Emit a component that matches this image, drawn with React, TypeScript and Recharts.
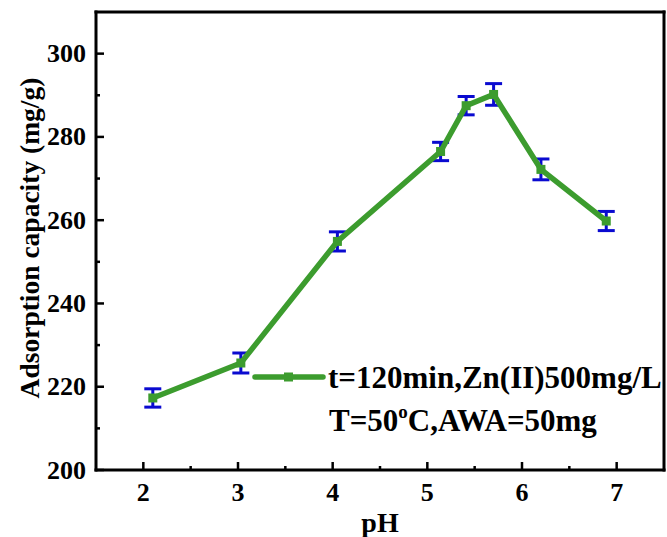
import { ComposedChart, Line, XAxis, YAxis, ErrorBar, Customized, ReferenceLine } from "recharts"

const pH = [2.1, 3.03, 4.05, 5.14, 5.41, 5.7, 6.2, 6.89]
const capacity = [217.3, 225.7, 254.9, 276.5, 287.5, 290.2, 272.2, 259.8]
const errors = [2.2, 2.4, 2.3, 2.2, 2.2, 2.6, 2.5, 2.3]

const xTicks = [2, 2.5, 3, 3.5, 4, 4.5, 5, 5.5, 6, 6.5, 7]
const yTicks = [200, 210, 220, 230, 240, 250, 260, 270, 280, 290, 300]
const xDomain = [1.5, 7.5]
const yDomain = [200, 310]

const legendLines = ["t=120min,Zn(II)500mg/L", "T=50", "C,AWA=50mg"]

const data = pH.map((x, i) => ({ pH: x, q: capacity[i], err: errors[i] }))

const FONT = "'Liberation Serif', 'Times New Roman', serif"
const GREEN = "#3c9c2e"
const BLUE = "#0a0ad0"

const textStyle = { fontFamily: FONT, fontWeight: "bold" as const }

function XTick({ x, y, payload }: any) {
  const major = Number.isInteger(payload.value)
  return (
    <g>
      <line x1={x} x2={x} y1={y} y2={y - (major ? 8 : 4)} stroke="#000" strokeWidth={2.5} />
      {major && (
        <text x={x} y={y + 31} textAnchor="middle" style={{ ...textStyle, fontSize: 26 }} fill="#000">
          {payload.value}
        </text>
      )}
    </g>
  )
}

function YTick({ x, y, payload }: any) {
  const major = payload.value % 20 === 0
  return (
    <g>
      <line x1={x} x2={x + (major ? 8 : 4)} y1={y} y2={y} stroke="#000" strokeWidth={2.5} />
      {major && (
        <text x={x - 10} y={y + 8.5} textAnchor="end" style={{ ...textStyle, fontSize: 26 }} fill="#000">
          {payload.value}
        </text>
      )}
    </g>
  )
}

function SquareDot({ cx, cy }: any) {
  if (cx == null || cy == null) return null
  return <rect x={cx - 4.5} y={cy - 4.5} width={9} height={9} fill={GREEN} />
}

function LegendBox() {
  const s = { ...textStyle, fontSize: 31 }
  return (
    <g fill="#000">
      <line x1={255} x2={323} y1={377} y2={377} stroke={GREEN} strokeWidth={5.5} strokeLinecap="round" />
      <rect x={284} y={372.5} width={9} height={9} fill={GREEN} />
      <text x={328} y={388} style={s}>{legendLines[0]}</text>
      <text x={329} y={431} style={s}>
        {legendLines[1]}
        <tspan style={{ fontSize: 19 }} dy={-13}>o</tspan>
        <tspan dy={13}>{legendLines[2]}</tspan>
      </text>
    </g>
  )
}

const axisLineStyle = { stroke: "#000", strokeWidth: 3, strokeLinecap: "square" as const }

export default function App() {
  return (
    <div style={{ position: "absolute", left: 0, top: 0, background: "#fff" }}>
      <ComposedChart width={667} height={537} data={data} margin={{ top: 12, right: 3, left: 0, bottom: 0 }}>
        <XAxis
          dataKey="pH"
          type="number"
          domain={xDomain}
          ticks={xTicks}
          interval={0}
          height={67}
          tickSize={0}
          tickMargin={0}
          tickLine={false}
          tick={<XTick />}
          axisLine={axisLineStyle}
        />
        <YAxis
          type="number"
          domain={yDomain}
          ticks={yTicks}
          interval={0}
          width={96}
          tickSize={0}
          tickMargin={0}
          tickLine={false}
          tick={<YTick />}
          axisLine={axisLineStyle}
        />
        {/* frame: top and right edges */}
        <ReferenceLine y={yDomain[1]} stroke="#000" strokeWidth={3} strokeLinecap="square" />
        <ReferenceLine x={xDomain[1]} stroke="#000" strokeWidth={3} strokeLinecap="square" />
        <Line
          dataKey="q"
          stroke={GREEN}
          strokeWidth={5.5}
          dot={<SquareDot />}
          activeDot={false}
          isAnimationActive={false}
        >
          <ErrorBar dataKey="err" width={8.5} stroke={BLUE} strokeWidth={3} />
        </Line>
        <Customized component={LegendBox} />
        <text x={380} y={532} textAnchor="middle" style={{ ...textStyle, fontSize: 28 }}>
          pH
        </text>
        <text
          x={39}
          y={238}
          textAnchor="middle"
          transform="rotate(-90 39 238)"
          style={{ ...textStyle, fontSize: 27.5 }}
        >
          Adsorption capacity (mg/g)
        </text>
      </ComposedChart>
    </div>
  )
}
